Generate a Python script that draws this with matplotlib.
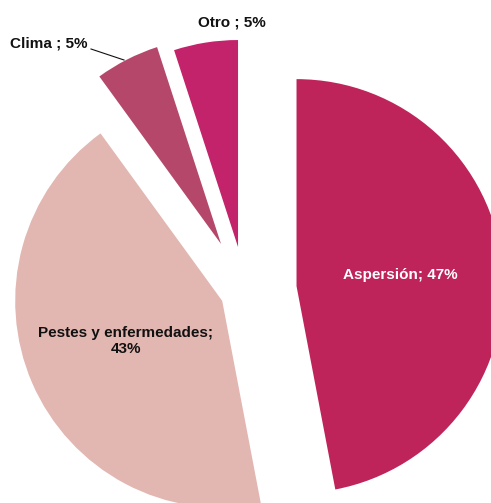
import matplotlib
matplotlib.use("Agg")
import matplotlib.pyplot as plt
from matplotlib import font_manager

labels = ["Aspersión", "Pestes y enfermedades", "Clima", "Otro"]
values = [47, 43, 5, 5]
colors = ["#BE245A", "#E2B6B1", "#B5486A", "#C2236A"]
explode = [0.25, 0.12, 0.255, 0.215]

names = sorted({f.name for f in font_manager.fontManager.ttflist})
fam = "Liberation Sans Narrow" if "Liberation Sans Narrow" in names else "Liberation Sans"
plt.rcParams["font.family"] = [fam, "DejaVu Sans"]

R = 207
fig = plt.figure(figsize=(4.91, 5.03), dpi=100)
ax = fig.add_axes([0, 0, 1, 1])
ax.pie(values, colors=colors, explode=[e * R for e in explode], startangle=90,
       counterclock=False, center=(245, 212), radius=R, wedgeprops=dict(linewidth=0))
ax.set_xlim(0, 491)
ax.set_ylim(0, 503)
ax.set_aspect("equal")
ax.axis("off")

fs = 11 if fam == "Liberation Sans" else 12.5
dark = "#111111"
ax.text(400, 228, f"{labels[0]}; {values[0]}%", color="white", fontsize=fs,
        fontweight="bold", ha="center", va="center")
ax.text(126, 162, f"{labels[1]};\n{values[1]}%", color=dark, fontsize=fs,
        fontweight="bold", ha="center", va="center", linespacing=1.25)
ax.text(88, 460, f"{labels[2]} ; {values[2]}%", color=dark, fontsize=fs,
        fontweight="bold", ha="right", va="center")
ax.plot([91, 124], [454, 443], color=dark, linewidth=0.8)
ax.text(232, 481, f"{labels[3]} ; {values[3]}%", color=dark, fontsize=fs,
        fontweight="bold", ha="center", va="center")

fig.savefig("out.png", dpi=100)
